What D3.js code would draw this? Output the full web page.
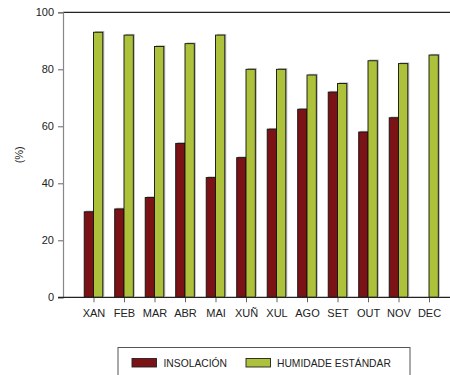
<!DOCTYPE html>
<html>
<head>
<meta charset="utf-8">
<script src="https://cdn.jsdelivr.net/npm/d3@7"></script>
<style>
  html, body { margin: 0; padding: 0; background: #fff; }
  svg { display: block; font-family: "Liberation Sans", Arial, sans-serif; }
</style>
</head>
<body>
<svg id="chart" width="450" height="375"></svg>
<script>
const months = ["XAN","FEB","MAR","ABR","MAI","XUÑ","XUL","AGO","SET","OUT","NOV","DEC"];
const insolacion = [30, 31, 35, 54, 42, 49, 59, 66, 72, 58, 63, null];
const humidade = [93, 92, 88, 89, 92, 80, 80, 78, 75, 83, 82, 85];
const yTicks = [0, 20, 40, 60, 80, 100];
const seriesNames = ["INSOLACIÓN", "HUMIDADE ESTÁNDAR"];
const seriesColors = ["#7a1216", "#adc13a"];

(function () {
const svg = d3.select("#chart");
const mLeft = 63, mTop = 12.3, mBottom = 297.3;
const step = 30.5;
const x = d3.scaleLinear().domain([0, 13]).range([mLeft, mLeft + 13 * step]);
const y = d3.scaleLinear().domain([0, 100]).range([mBottom, mTop]);
const bw = 9.3;

// top frame line
svg.append("line").attr("x1", mLeft).attr("x2", 450).attr("y1", y(100)).attr("y2", y(100))
  .attr("stroke", "#222").attr("stroke-width", 1.2);

// bars
const series = [insolacion, humidade];
series.forEach((vals, s) => {
  const g = svg.append("g");
  const data = vals.map((v, i) => ({v, i})).filter(d => d.v != null);
  g.selectAll("rect.sh").data(data).enter().append("rect").attr("class", "sh")
    .attr("x", d => x(d.i + 1) + (s === 0 ? -bw : 0) + 1.5)
    .attr("y", d => y(d.v) - 1.2)
    .attr("width", bw).attr("height", d => mBottom - y(d.v))
    .attr("fill", "#b8b8b8");
  g.selectAll("rect.b").data(data).enter().append("rect").attr("class", "b")
    .attr("x", d => x(d.i + 1) + (s === 0 ? -bw : 0))
    .attr("y", d => y(d.v))
    .attr("width", bw).attr("height", d => mBottom - y(d.v))
    .attr("fill", seriesColors[s]).attr("stroke", "#111").attr("stroke-width", 0.9);
});

// y axis
const yAxis = d3.axisLeft(y).tickValues(yTicks).tickSize(5).tickPadding(4).tickFormat(d3.format("d"));
const ya = svg.append("g").attr("transform", `translate(${mLeft},0)`).call(yAxis);
ya.select(".domain").attr("stroke", "#888").attr("stroke-width", 1.2);
ya.selectAll(".tick line").attr("stroke", "#666");
ya.selectAll(".tick text").attr("font-size", 11).attr("fill", "#222")
  .attr("font-family", "Liberation Sans, Arial, sans-serif");

// x axis
const xAxis = d3.axisBottom(x).tickValues(d3.range(1, 13)).tickSize(5).tickPadding(7)
  .tickFormat(d => months[d - 1]);
const xa = svg.append("g").attr("transform", `translate(0,${mBottom})`).call(xAxis);
xa.select(".domain").remove();
xa.selectAll(".tick line").attr("stroke", "#666");
xa.selectAll(".tick text").attr("font-size", 11).attr("fill", "#222")
  .attr("font-family", "Liberation Sans, Arial, sans-serif");
svg.append("line").attr("x1", mLeft - 5).attr("x2", 450).attr("y1", mBottom).attr("y2", mBottom)
  .attr("stroke", "#222").attr("stroke-width", 1.2);

// y title
svg.append("text").attr("transform", `translate(23,${(mTop + mBottom) / 2}) rotate(-90)`)
  .attr("text-anchor", "middle").attr("font-size", 11).attr("fill", "#222").text("(%)");

// legend
const lg = svg.append("g");
lg.append("rect").attr("x", 118).attr("y", 347.5).attr("width", 292).attr("height", 40)
  .attr("fill", "none").attr("stroke", "#555").attr("stroke-width", 1);
const legendItems = [
  {sx: 132, tx: 163.5},
  {sx: 246, tx: 277}
];
legendItems.forEach((it, s) => {
  lg.append("rect").attr("x", it.sx).attr("y", 358.5).attr("width", 24.5).attr("height", 8.5)
    .attr("fill", seriesColors[s]).attr("stroke", "#222").attr("stroke-width", 0.9);
  lg.append("text").attr("x", it.tx).attr("y", 367).attr("font-size", 10.3).attr("fill", "#222")
    .text(seriesNames[s]);
});
})();
</script>
</body>
</html>
